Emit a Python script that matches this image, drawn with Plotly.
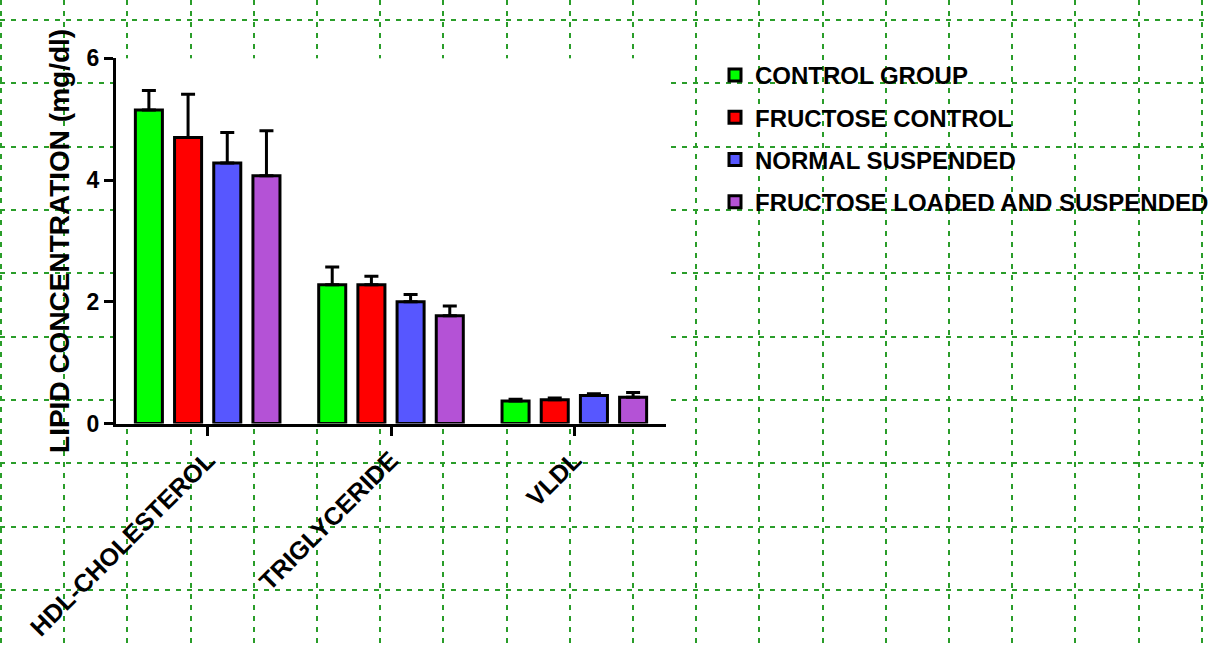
import plotly.graph_objects as go

# ---- data ----
categories = ["HDL-CHOLESTEROL", "TRIGLYCERIDE", "VLDL"]
series_names = ["CONTROL GROUP", "FRUCTOSE CONTROL", "NORMAL SUSPENDED",
                "FRUCTOSE LOADED AND SUSPENDED"]
control_group = [5.15, 2.28, 0.37]
fructose_control = [4.70, 2.28, 0.39]
normal_suspended = [4.28, 2.00, 0.46]
fructose_loaded_suspended = [4.07, 1.77, 0.43]

control_group_err = [0.32, 0.29, 0.03]
fructose_control_err = [0.71, 0.14, 0.03]
normal_suspended_err = [0.50, 0.12, 0.03]
fructose_loaded_suspended_err = [0.74, 0.16, 0.08]

y_ticks = [0, 2, 4, 6]
y_title = "LIPID CONCENTRATION (mg/dl)"

colors = ["#00ff00", "#ff0000", "#5757ff", "#b452d6"]

W, H = 1210, 646
FONT = "Liberation Sans, Arial, sans-serif"

fig = go.Figure()

# invisible trace to create the background page-grid subplot
fig.add_trace(go.Scatter(x=[], y=[], xaxis="x", yaxis="y", showlegend=False,
                         hoverinfo="skip"))

values = [control_group, fructose_control, normal_suspended, fructose_loaded_suspended]
errors = [control_group_err, fructose_control_err, normal_suspended_err,
          fructose_loaded_suspended_err]

for i, (name, vals, errs) in enumerate(zip(series_names, values, errors)):
    fig.add_trace(go.Bar(
        x=categories, y=vals, name=name,
        xaxis="x2", yaxis="y2",
        legendgroup=name,
        marker=dict(color=colors[i], line=dict(color="black", width=3)),
        error_y=dict(type="data", symmetric=False, array=errs,
                     arrayminus=[0] * len(errs), color="black",
                     thickness=3, width=7),
    ))

grid_color = "#2a9d2a"

fig.update_layout(
    width=W, height=H,
    margin=dict(l=0, r=0, t=0, b=0, autoexpand=False),
    paper_bgcolor="white", plot_bgcolor="white",
    barmode="group", bargap=0.145, bargroupgap=0.31,
    font=dict(family=FONT, color="black"),
    # background page grid
    xaxis=dict(domain=[0, 1], range=[0, W], showgrid=True, gridcolor=grid_color,
               gridwidth=2, griddash="5px,6px", tick0=1.1, dtick=63.19,
               showticklabels=False, zeroline=False, showline=False,
               ticks="", anchor="y", fixedrange=True, automargin=False),
    yaxis=dict(domain=[0, 1], range=[H, 0], showgrid=True, gridcolor=grid_color,
               gridwidth=2, griddash="5px,6px", tick0=20, dtick=63.33,
               showticklabels=False, zeroline=False, showline=False,
               ticks="", anchor="x", fixedrange=True, automargin=False),
    # main chart axes
    xaxis2=dict(domain=[116 / W, 666 / W], anchor="y2", type="category",
                range=[-0.5, 2.5], showgrid=False, zeroline=False,
                showline=True, linecolor="black", linewidth=3,
                ticks="outside", ticklen=9, tickwidth=3, tickcolor="black",
                tickangle=-45, automargin=False,
                tickfont=dict(family=FONT, size=25, weight="bold", color="black")),
    yaxis2=dict(domain=[(H - 423.5) / H, (H - 58.3) / H], anchor="x2",
                range=[0, 6], tickvals=y_ticks, showgrid=False, zeroline=False,
                showline=True, linecolor="black", linewidth=3,
                ticks="outside", ticklen=9, tickwidth=3, tickcolor="black",
                automargin=False,
                tickfont=dict(family=FONT, size=23, weight="bold", color="black"),
                title=dict(text=y_title, standoff=9,
                           font=dict(family=FONT, size=28, weight="bold",
                                     color="black"))),
    legend=dict(x=715 / W, y=(H - 53) / H, xanchor="left", yanchor="top",
                bgcolor="rgba(0,0,0,0)", tracegroupgap=8,
                font=dict(family=FONT, size=24, weight="bold", color="black")),
    showlegend=True,
)

fig.write_html(
    "out.html",
    config={"displayModeBar": False},
    post_script="document.body.style.margin='0';"
                "document.body.style.overflow='hidden';",
)
